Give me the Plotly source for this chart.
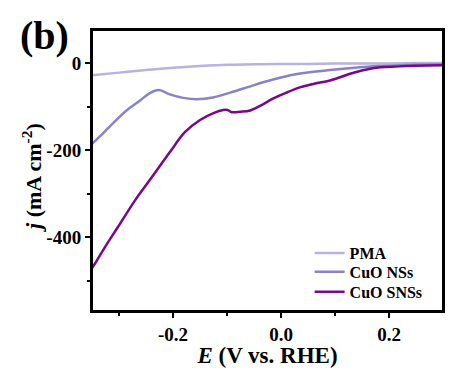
import plotly.graph_objects as go

pma_x = [-0.35, -0.3, -0.25, -0.2, -0.15, -0.1, -0.05, 0.0, 0.05, 0.1, 0.15, 0.2, 0.25, 0.3]
pma_y = [-28, -22, -16, -11, -7, -4, -3, -2, -2, -1, -1, -1, 0, 0]

ns_x = [-0.35, -0.335, -0.311, -0.285, -0.261, -0.243, -0.226, -0.206, -0.181, -0.156, -0.126,
        -0.094, -0.063, -0.033, 0.0, 0.035, 0.091, 0.152, 0.2, 0.25, 0.3]
ns_y = [-186, -168, -138, -108, -86, -69, -62, -72, -80, -83, -79,
        -68, -56, -44, -33, -24, -16, -9, -6, -4, -3]

sns_x = [-0.35, -0.345, -0.326, -0.302, -0.270, -0.239, -0.206, -0.178, -0.150, -0.125, -0.107,
         -0.099, -0.091, -0.075, -0.057, -0.035, -0.015, 0.010, 0.035, 0.060, 0.091, 0.133,
         0.165, 0.196, 0.25, 0.3]
sns_y = [-471, -462, -423, -377, -315, -262, -205, -159, -131, -115, -108,
         -108, -113, -112, -109, -96, -82, -68, -56, -48, -40, -23,
         -13, -9, -6, -5]

x_ticks = [-0.2, 0.0, 0.2]
x_ticklabels = ["-0.2", "0.0", "0.2"]
y_ticks = [0, -200, -400]
y_ticklabels = ["0", "-200", "-400"]

FONT = "Liberation Serif"

fig = go.Figure()
fig.add_trace(go.Scatter(x=pma_x, y=pma_y, mode="lines", name="PMA", legend="legend",
                         line=dict(color="#b6b3dd", width=2.5, shape="spline")))
fig.add_trace(go.Scatter(x=ns_x, y=ns_y, mode="lines", name="CuO NSs", legend="legend2",
                         line=dict(color="#8783c6", width=2.5, shape="spline")))
fig.add_trace(go.Scatter(x=sns_x, y=sns_y, mode="lines", name="CuO SNSs", legend="legend3",
                         line=dict(color="#78078c", width=2.5, shape="spline")))

def leg(y):
    return dict(x=0.62, y=y, xanchor="left", yanchor="middle",
                bgcolor="rgba(0,0,0,0)", font=dict(family=FONT, size=16, weight="bold"),
                itemwidth=30)

fig.update_layout(
    template="none",
    width=447, height=360,
    margin=dict(l=84, r=12, t=22, b=57, autoexpand=False),
    paper_bgcolor="white", plot_bgcolor="white",
    font=dict(family=FONT, color="black"),
    showlegend=True,
    legend=leg(0.206), legend2=leg(0.139), legend3=leg(0.068),
    annotations=[
        dict(text="(b)", x=-0.134, y=0.982, xref="paper", yref="paper",
             xanchor="center", yanchor="middle",
             showarrow=False, font=dict(family=FONT, size=40, weight="bold")),
        dict(text="<i>j</i> (mA cm<sup>-2</sup>)", x=-0.171, y=0.477, xref="paper", yref="paper",
             xanchor="center", yanchor="middle", textangle=-90,
             showarrow=False, font=dict(family=FONT, size=22, weight="bold")),
    ],
    shapes=[dict(type="rect", xref="paper", yref="paper", x0=0, x1=1, y0=0, y1=1,
                 line=dict(color="black", width=2), layer="above")],
)

fig.update_xaxes(
    automargin=False,
    range=[-0.35, 0.3], tickvals=x_ticks, ticktext=x_ticklabels,
    showgrid=False, zeroline=False,
    showline=True, linecolor="black", linewidth=2, mirror=True,
    ticks="outside", ticklen=5, tickwidth=1.5, tickcolor="black",
    tickfont=dict(family=FONT, size=19, weight="bold"),
    minor=dict(tickvals=[-0.3, -0.1, 0.1], ticks="outside", ticklen=3, tickwidth=1.5, tickcolor="black"),
    title=dict(text="<i>E</i> (V vs. RHE)", font=dict(family=FONT, size=23, weight="bold"), standoff=5),
)
fig.update_yaxes(
    automargin=False,
    range=[-570, 76], tickvals=y_ticks, ticktext=y_ticklabels,
    showgrid=False, zeroline=False,
    showline=True, linecolor="black", linewidth=2, mirror=True,
    ticks="outside", ticklen=5, tickwidth=1.5, tickcolor="black",
    tickfont=dict(family=FONT, size=19, weight="bold"),
    minor=dict(tickvals=[-100, -300, -500], ticks="outside", ticklen=3, tickwidth=1.5, tickcolor="black"),
)

fig.write_html("out.html")
